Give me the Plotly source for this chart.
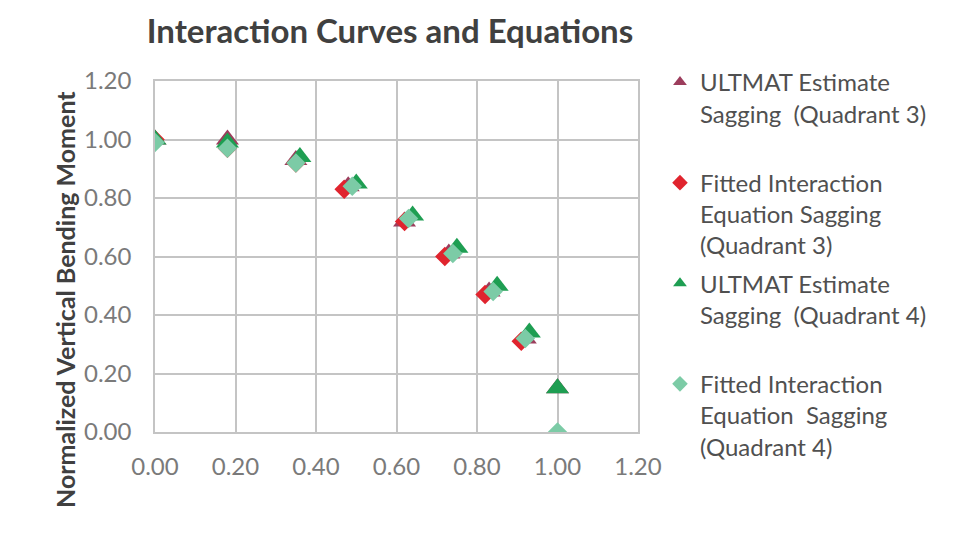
import plotly.graph_objects as go

# Data
ult_q3_x = [0.00, 0.18, 0.35, 0.48, 0.62, 0.73, 0.83, 0.92, 1.00]
ult_q3_y = [1.00, 1.00, 0.93, 0.84, 0.72, 0.61, 0.48, 0.32, 0.15]

fit_q3_x = [0.00, 0.18, 0.35, 0.47, 0.62, 0.72, 0.82, 0.91]
fit_q3_y = [1.00, 0.97, 0.92, 0.83, 0.72, 0.60, 0.47, 0.31]

ult_q4_x = [0.00, 0.18, 0.36, 0.50, 0.64, 0.75, 0.85, 0.93, 1.00]
ult_q4_y = [1.00, 0.99, 0.94, 0.85, 0.74, 0.63, 0.50, 0.34, 0.15]

fit_q4_x = [0.00, 0.18, 0.35, 0.49, 0.63, 0.74, 0.84, 0.92, 1.00]
fit_q4_y = [0.99, 0.97, 0.92, 0.84, 0.73, 0.61, 0.48, 0.32, 0.00]

names = [
    "ULTMAT Estimate<br>Sagging  (Quadrant 3)<br> ",
    "Fitted Interaction<br>Equation Sagging<br>(Quadrant 3)",
    "ULTMAT Estimate<br>Sagging  (Quadrant 4)<br> ",
    "Fitted Interaction<br>Equation  Sagging<br>(Quadrant 4)",
]
tick_vals = [0.0, 0.2, 0.4, 0.6, 0.8, 1.0, 1.2]
tick_text = ["0.00", "0.20", "0.40", "0.60", "0.80", "1.00", "1.20"]

fig = go.Figure()
fig.add_trace(go.Scatter(x=ult_q3_x, y=ult_q3_y, mode="markers", name=names[0], legendgroup="a",
                         marker=dict(symbol="triangle-up", size=20, color="#9C3D5C")))
fig.add_trace(go.Scatter(x=fit_q3_x, y=fit_q3_y, mode="markers", name=names[1], legendgroup="b",
                         marker=dict(symbol="diamond", size=15, color="#E0242E")))
fig.add_trace(go.Scatter(x=ult_q4_x, y=ult_q4_y, mode="markers", name=names[2], legendgroup="c",
                         marker=dict(symbol="triangle-up", size=20, color="#1E9E52")))
fig.add_trace(go.Scatter(x=fit_q4_x, y=fit_q4_y, mode="markers", name=names[3], legendgroup="d",
                         marker=dict(symbol="diamond", size=15, color="#7CCBA6")))

axis_common = dict(
    range=[0, 1.2], tickvals=tick_vals, ticktext=tick_text,
    showgrid=True, gridcolor="#C4C4C4", gridwidth=1.5,
    showline=True, linecolor="#C4C4C4", linewidth=1.5, mirror=True,
    zeroline=False, automargin=False,
    tickfont=dict(family="Lato", size=24, color="#7A7A7A"),
)

# The page body adds an 8px offset; the figure is sized to fill the rest of the window.
W, H = 956, 542
fig.update_layout(
    width=W, height=H,
    paper_bgcolor="white", plot_bgcolor="white",
    margin=dict(l=147, r=326, t=73, b=118),
    title=dict(text="<b>Interaction Curves and Equations</b>",
               font=dict(family="Lato", size=33, color="#404040"),
               x=(390 - 155) / 483, xref="paper", xanchor="center",
               y=1 - 23 / H, yref="container", yanchor="middle",
               automargin=False),
    xaxis=dict(**axis_common, ticklabelstandoff=12),
    yaxis=dict(**axis_common, ticklabelstandoff=17),
    legend=dict(x=1.0455, xanchor="left", y=1.06, yanchor="top",
                valign="top", font=dict(family="Lato", size=24, color="#505050"),
                bgcolor="rgba(0,0,0,0)", itemsizing="constant",
                tracegroupgap=4, maxheight=530),
    showlegend=True,
    annotations=[dict(text="<b>Normalized Vertical Bending Moment</b>",
                      textangle=-90, xref="paper", yref="paper",
                      x=-90 / 483, y=(432 - 300) / 351, xanchor="center", yanchor="middle",
                      showarrow=False,
                      font=dict(family="Lato", size=25, color="#404040"))],
)

fig.write_html("out.html")
